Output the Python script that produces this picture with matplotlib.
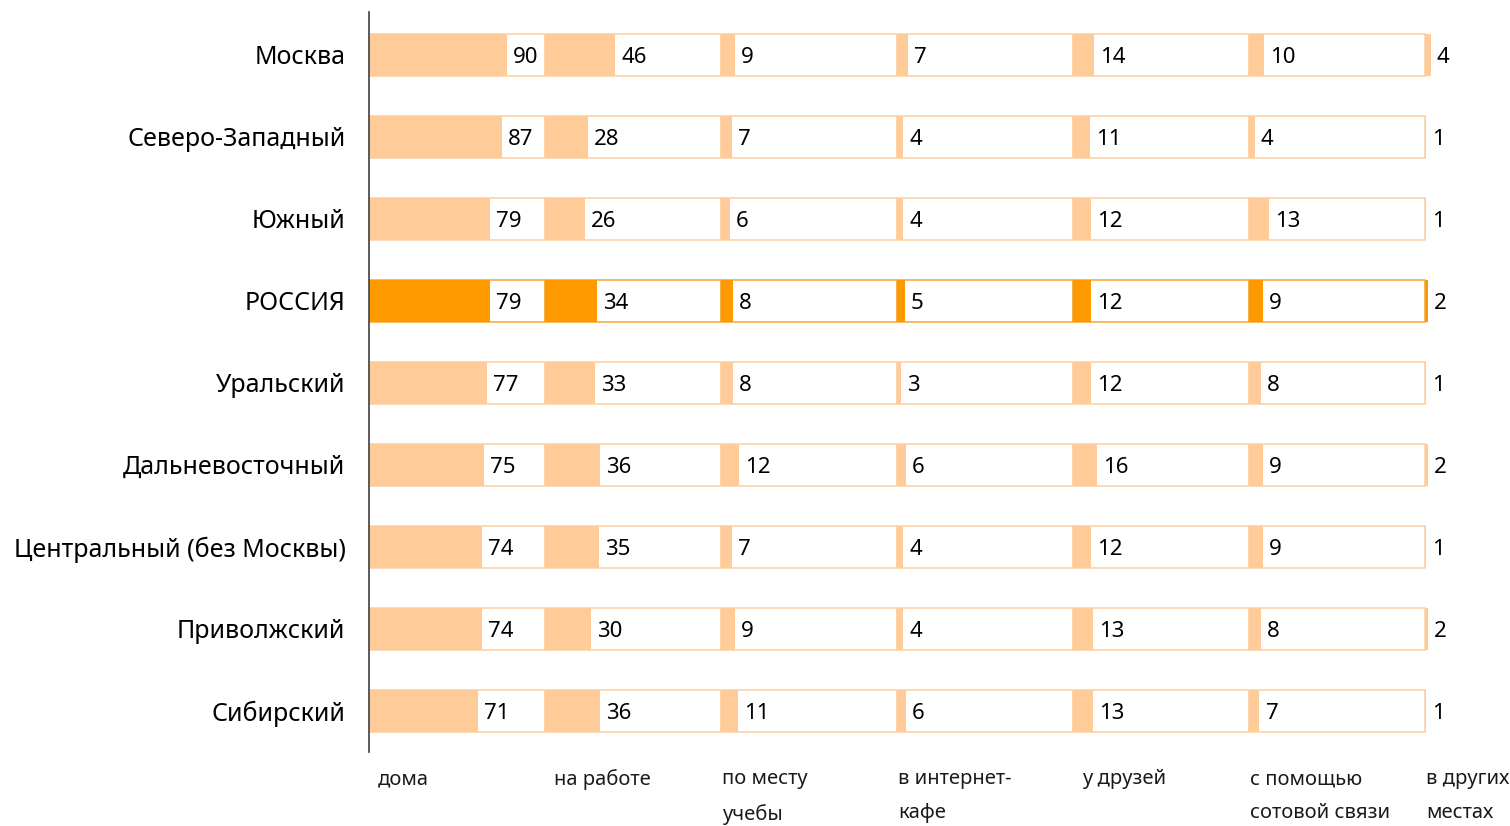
import numpy as np
import matplotlib
matplotlib.use('Agg')
import matplotlib.pyplot as plt

plt.rcParams['font.family'] = ['Noto Sans', 'DejaVu Sans']
plt.rcParams['font.stretch'] = 'semi-condensed'

regions = ['Москва', 'Северо-Западный', 'Южный', 'РОССИЯ', 'Уральский',
           'Дальневосточный', 'Центральный (без Москвы)', 'Приволжский', 'Сибирский']
places = ['дома', 'на работе', 'по месту\nучебы', 'в интернет-\nкафе', 'у друзей',
          'с помощью\nсотовой связи', 'в других\nместах']
doma = [90, 87, 79, 79, 77, 75, 74, 74, 71]
rabota = [46, 28, 26, 34, 33, 36, 35, 30, 36]
ucheba = [9, 7, 6, 8, 8, 12, 7, 9, 11]
internet_cafe = [7, 4, 4, 5, 3, 6, 4, 4, 6]
druzya = [14, 11, 12, 12, 12, 16, 12, 13, 13]
sotovaya = [10, 4, 13, 9, 8, 9, 9, 8, 7]
drugie = [4, 1, 1, 2, 1, 2, 1, 2, 1]
series = [doma, rabota, ucheba, internet_cafe, druzya, sotovaya, drugie]

W = 115.0          # width of one group (units)
light = '#FFCC99'
dark = '#FF9900'
light_edge = '#FDD3A8'
dark_edge = '#F7AE45'

fig = plt.figure(figsize=(15.1, 8.26), dpi=100)
ax = fig.add_axes([369/1510, 1-752/826, 1-369/1510, 740/826])

y = np.arange(len(regions))
bar_colors = [dark if r == 'РОССИЯ' else light for r in regions]
edge_colors = [dark_edge if r == 'РОССИЯ' else light_edge for r in regions]

for i, vals in enumerate(series):
    left = i * W
    if i < len(series) - 1:
        ax.barh(y, W, left=left, height=0.51, color='white', edgecolor=edge_colors,
                linewidth=1.2, zorder=1)
    ax.barh(y, vals, left=left, height=0.51, color=bar_colors, linewidth=0, zorder=2)
    for yy, v in zip(y, vals):
        ax.text(left + v + 4, yy, str(v), va='center_baseline', ha='left', fontsize=16,
                color='black', zorder=3)
    off = 6 if '\n' not in places[i] else 1
    ax.text(left + off, 8.71, places[i], va='top', ha='left', fontsize=14.5,
            linespacing=1.95, color='#1a1a1a', clip_on=False)

ax.set_xlim(0, (1510-369)/1.53)
ax.set_ylim(8.5, -0.52)
ax.set_yticks(y)
ax.set_yticklabels(regions, fontsize=18)
ax.tick_params(axis='y', length=0, pad=17)
ax.set_xticks([])
for s in ['top', 'right', 'bottom']:
    ax.spines[s].set_visible(False)
ax.spines['left'].set_color('#404040')
ax.spines['left'].set_linewidth(1.2)
ax.patch.set_alpha(0)

fig.savefig('out.png', dpi=100)
